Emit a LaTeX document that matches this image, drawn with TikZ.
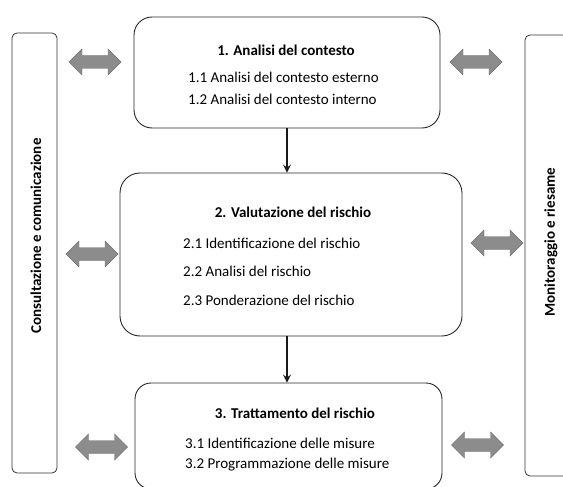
\documentclass[tikz,border=0pt]{standalone}
\usepackage{fontspec}
\setmainfont{Carlito}
\usetikzlibrary{arrows.meta}
\begin{document}
\begin{tikzpicture}[x=1pt,y=-1pt,
  box/.style={draw=black!85, line width=0.9pt, rounded corners=18pt, inner sep=0pt},
  sidebox/.style={draw=black!80, line width=0.8pt, rounded corners=5pt, inner sep=0pt},
  title/.style={font=\fontsize{15}{18}\selectfont\bfseries, inner sep=0pt},
  item/.style={font=\fontsize{15}{18}\selectfont, inner sep=0pt, anchor=base west},
  side/.style={font=\fontsize{15}{18}\selectfont\bfseries, inner sep=0pt, rotate=90},
  flow/.style={draw=black!90, line width=1.2pt, -{Stealth[length=8pt,width=8pt,inset=3pt]}},
  dblarrow/.pic={
    \path[fill=black!45, draw=black!55, line width=0.4pt]
      (-26,0) -- (-13,-13) -- (-13,-6.5) -- (13,-6.5) -- (13,-13) -- (26,0)
      -- (13,13) -- (13,6.5) -- (-13,6.5) -- (-13,13) -- cycle;
  }
]
\useasboundingbox (0,0) rectangle (563,487);
\clip (0,0) rectangle (563,487);

% side boxes
\node[sidebox, minimum width=45pt, minimum height=440pt] (left) at (34.5,253) {};
\node[sidebox, minimum width=50pt, minimum height=441pt] (right) at (550,255.5) {};
\node[side] (lefttext) at (36,236) {Consultazione e comunicazione};
\node[side] (righttext) at (551,242) {Monitoraggio e riesame};

% main boxes
\node[box, minimum width=306pt, minimum height=111pt] (b1) at (287,72.5) {};
\node[box, rounded corners=20pt, minimum width=342pt, minimum height=163pt] (b2) at (291,254.5) {};
\node[box, rounded corners=16pt, minimum width=307pt, minimum height=106pt] (b3) at (288.5,436) {};

% texts box 1
\node[title] (t1) at (286,50) {1. Analisi del contesto};
\node[item] (t11) at (188,83) {1.1 Analisi del contesto esterno};
\node[item] (t12) at (188,105) {1.2 Analisi del contesto interno};

% texts box 2
\node[title] (t2) at (293,212) {2. Valutazione del rischio};
\node[item] (t21) at (183,248) {2.1 Identificazione del rischio};
\node[item] (t22) at (183,276) {2.2 Analisi del rischio};
\node[item] (t23) at (183,305) {2.3 Ponderazione del rischio};

% texts box 3
\node[title] (t3) at (295,413) {3. Trattamento del rischio};
\node[item] (t31) at (185,448) {3.1 Identificazione delle misure};
\node[item] (t32) at (185,468) {3.2 Programmazione delle misure};

% flow arrows
\draw[flow] (b1.south -| 287,0) -- (b2.north -| 287,0);
\draw[flow] (b2.south -| 287,0) -- (b3.north -| 287,0);

% double arrows
\pic (l1) at (95,62) {dblarrow};
\pic (l2) at (92,254) {dblarrow};
\pic (l3) at (101.5,447) {dblarrow};
\pic (r1) at (476,62) {dblarrow};
\pic (r2) at (497,243) {dblarrow};
\pic (r3) at (477.5,445) {dblarrow};
\end{tikzpicture}
\end{document}
